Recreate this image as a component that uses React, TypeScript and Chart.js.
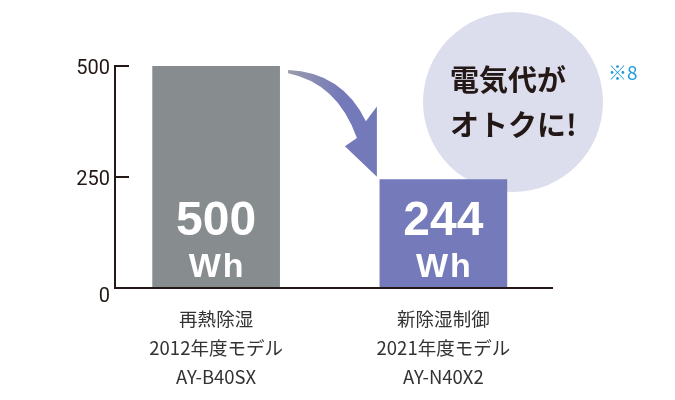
import { useEffect, useRef } from 'react';
import { Chart, registerables } from 'chart.js';

Chart.register(...registerables);

// data
const methodNames = ['再熱除湿', '新除湿制御'];
const modelYears = ['2012年度モデル', '2021年度モデル'];
const modelNumbers = ['AY-B40SX', 'AY-N40X2'];
const energyWh = [500, 244];
const yTickValues = [0, 250, 500];
const unitLabel = 'Wh';
const bubbleLines = ['電気代が', 'オトクに!'];
const noteMark = '※8';

const barColors = ['#878c8f', '#747aba'];
const inkColor = '#231815';
const bubbleColor = '#dcdded';
const noteColor = '#1e9be0';

// arrow outline, in units of the span from bar 1 top-right to bar 2 top-left
const arrowShape = {
  outerStart: [0, 0],
  outerCtrl: [0.607, 0.02],
  outerEnd: [0.876, 0.48],
  headRight: [1.0, 0.343],
  tip: [1, 1],
  headLeft: [0.64, 0.716],
  innerStart: [0.775, 0.637],
  innerCtrl: [0.556, 0.123],
  innerEnd: [0, 0.03],
};

type Pt = [number, number];

const decorPlugin = {
  id: 'decor',
  beforeDatasetsDraw(chart: any) {
    const { ctx, chartArea } = chart;
    const cx = chartArea.right - 44;
    const cy = chartArea.top + 36;
    ctx.save();
    ctx.fillStyle = bubbleColor;
    ctx.beginPath();
    ctx.arc(cx, cy, 90, 0, Math.PI * 2);
    ctx.fill();
    ctx.fillStyle = inkColor;
    ctx.font = 'bold 29px "Noto Sans CJK JP"';
    ctx.textAlign = 'left';
    ctx.textBaseline = 'middle';
    ctx.fillText(bubbleLines[0], cx - 63, cy - 22);
    ctx.fillText(bubbleLines[1], cx - 63, cy + 23);
    ctx.fillStyle = noteColor;
    ctx.font = '19px "Noto Sans CJK JP"';
    ctx.fillText(noteMark, cx + 95, cy - 29);
    ctx.restore();
  },
  afterDatasetsDraw(chart: any) {
    const { ctx, chartArea, scales } = chart;
    const yScale = scales.y;
    const base = yScale.getPixelForValue(0);
    const axisX = chartArea.left + 12.5;
    ctx.save();

    // L-shaped axis with inward ticks
    ctx.strokeStyle = inkColor;
    ctx.lineWidth = 2;
    ctx.beginPath();
    ctx.moveTo(axisX, yScale.getPixelForValue(yTickValues[yTickValues.length - 1]) - 1);
    ctx.lineTo(axisX, base);
    ctx.lineTo(chartArea.right - 4, base);
    yTickValues.forEach((v) => {
      if (v === 0) return;
      const y = yScale.getPixelForValue(v);
      ctx.moveTo(axisX, y);
      ctx.lineTo(axisX + 14, y);
    });
    ctx.stroke();

    // y tick labels, right aligned left of the axis line
    ctx.fillStyle = inkColor;
    ctx.font = '20px Roboto';
    ctx.textAlign = 'right';
    ctx.textBaseline = 'middle';
    yTickValues.forEach((v) => {
      const y = yScale.getPixelForValue(v);
      ctx.fillText(String(v), axisX - 5, v === 0 ? y + 9 : y + 3);
    });

    // values inside bars
    const bars = chart.getDatasetMeta(0).data;
    ctx.fillStyle = '#ffffff';
    ctx.textAlign = 'center';
    ctx.textBaseline = 'alphabetic';
    bars.forEach((bar: any, i: number) => {
      ctx.font = 'bold 48px "Liberation Sans"';
      ctx.fillText(String(energyWh[i]), bar.x, base - 53);
      ctx.font = 'bold 34px "Liberation Sans"';
      ctx.letterSpacing = '2px';
      ctx.fillText(unitLabel, bar.x + 1, base - 11);
      ctx.letterSpacing = '0px';
    });

    // curved arrow between bars
    const b0 = bars[0];
    const b1 = bars[1];
    const sx = b0.x + b0.width / 2 + 8.5;
    const sy = b0.y + 4;
    const dx = b1.x - b1.width / 2 - 3 - sx;
    const dy = b1.y - 3 - sy;
    const p = (k: keyof typeof arrowShape): Pt => [sx + arrowShape[k][0] * dx, sy + arrowShape[k][1] * dy];
    const grad = ctx.createLinearGradient(sx, 0, sx + dx * 0.6, 0);
    grad.addColorStop(0, '#9a9caa');
    grad.addColorStop(1, '#7479b9');
    ctx.fillStyle = grad;
    ctx.beginPath();
    ctx.moveTo(...p('outerStart'));
    ctx.quadraticCurveTo(...p('outerCtrl'), ...p('outerEnd'));
    ctx.lineTo(...p('headRight'));
    ctx.lineTo(...p('tip'));
    ctx.lineTo(...p('headLeft'));
    ctx.lineTo(...p('innerStart'));
    ctx.quadraticCurveTo(...p('innerCtrl'), ...p('innerEnd'));
    ctx.closePath();
    ctx.fill();
    ctx.restore();
  },
};

export default function App() {
  const canvasRef = useRef<HTMLCanvasElement>(null);

  useEffect(() => {
    if (!canvasRef.current) return;
    const chart = new Chart(canvasRef.current, {
      type: 'bar',
      data: {
        labels: methodNames.map((m, i) => [m, modelYears[i], modelNumbers[i]]),
        datasets: [
          {
            data: energyWh,
            backgroundColor: barColors,
            barThickness: 127,
          },
        ],
      },
      options: {
        animation: false,
        responsive: true,
        maintainAspectRatio: false,
        layout: { padding: { top: 66, right: 118, left: 0, bottom: 0 } },
        plugins: {
          legend: { display: false },
          tooltip: { enabled: false },
        },
        scales: {
          x: {
            grid: { display: false, drawTicks: false },
            border: { display: false },
            afterFit: (scale: any) => {
              scale.height = 112;
            },
            ticks: {
              padding: 16,
              color: '#333333',
              font: { family: '"Noto Sans CJK JP"', size: 18.5, lineHeight: 29 / 18.5 },
            },
          },
          y: {
            min: 0,
            max: 500,
            grid: { display: false, drawTicks: false },
            border: { display: false },
            afterBuildTicks: (scale: any) => {
              scale.ticks = yTickValues.map((v) => ({ value: v }));
            },
            afterFit: (scale: any) => {
              scale.width = 102.5;
            },
            ticks: { display: false },
          },
        },
      },
      plugins: [decorPlugin],
    });
    return () => chart.destroy();
  }, []);

  return (
    <div style={{ position: 'absolute', left: 0, top: 0, width: 675, height: 400, background: '#ffffff' }}>
      <canvas ref={canvasRef} />
    </div>
  );
}
